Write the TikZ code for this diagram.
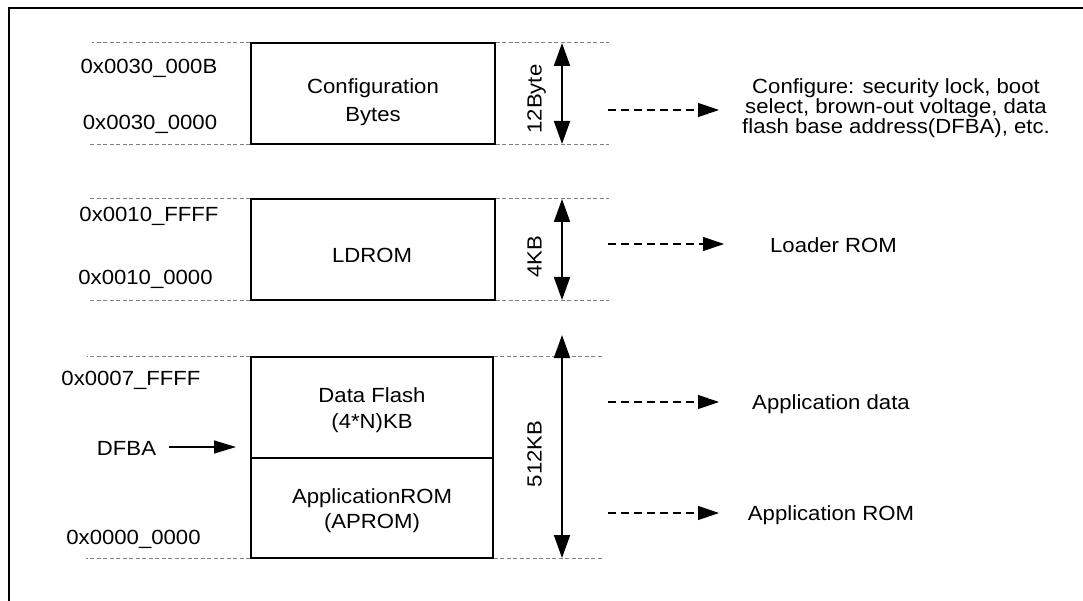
\documentclass[tikz,border=0pt]{standalone}
\usepackage{fontspec}
\setmainfont{Liberation Sans}[FakeStretch=1.08]
\usetikzlibrary{arrows.meta}
\begin{document}
\begin{tikzpicture}[x=1pt,y=-1pt,
  txt/.style={font=\fontsize{20.5}{19}\selectfont, inner sep=0pt, anchor=base},
  membox/.style={draw, line width=1.4pt, inner sep=0pt},
  guide/.style={draw=black!50, line width=0.9pt, dash pattern=on 4pt off 2.5pt},
  dimarrow/.style={line width=2pt, {Triangle[length=23pt,width=16pt]}-{Triangle[length=23pt,width=16pt]}},
  maparrow/.style={line width=1.2pt, dash pattern=on 8pt off 5pt, -{Triangle[length=21pt,width=14pt]}},
  ptrarrow/.style={line width=1.2pt, -{Triangle[length=22pt,width=13pt]}}]
\useasboundingbox (0,0) rectangle (1083,601);
\clip (0,0) rectangle (1083,601);
% outer frame
\draw[line width=2.2pt] (8.7,640) -- (8.7,7.7) -- (1120,7.7);

% memory regions
\node[membox, minimum width=244pt, minimum height=101pt] (cfg) at (373,93.5) {};
\node[membox, minimum width=244pt, minimum height=101pt] (ld) at (373,249.5) {};
\node[membox, minimum width=242pt, minimum height=101pt] (df) at (372,407.5) {};
\node[membox, minimum width=242pt, minimum height=100pt] (ap) at (372,508) {};

% region texts
\node[txt] (cfgA) at (373,94) {Configuration};
\node[txt] (cfgB) at (373,122) {Bytes};
\node[txt] (ldA) at (372,263) {LDROM};
\node[txt] (dfA) at (372,402) {Data Flash};
\node[txt] (dfB) at (372,428) {(4*N)KB};
\node[txt] (apA) at (372,503) {ApplicationROM};
\node[txt] (apB) at (372,528) {(APROM)};

% boundary guides
\draw[guide] (cfg.north west) -- ++(-158,0);
\draw[guide] (cfg.north east) -- ++(113,0);
\draw[guide] (cfg.south west) -- ++(-161,0);
\draw[guide] (cfg.south east) -- ++(113,0);
\draw[guide] (ld.north west) -- ++(-161,0);
\draw[guide] (ld.north east) -- ++(113,0);
\draw[guide] (ld.south west) -- ++(-161,0);
\draw[guide] (ld.south east) -- ++(113,0);
\draw[guide] (df.north west) -- ++(-163,0);
\draw[guide] (df.north east) -- ++(110,0);
\draw[guide] (ap.south west) -- ++(-164,0);
\draw[guide] (ap.south east) -- ++(110,0);

% addresses
\node[txt] (a1) at (149,74) {0x0030\_000B};
\node[txt] (a2) at (150,130) {0x0030\_0000};
\node[txt] (a3) at (149,222) {0x0010\_FFFF};
\node[txt] (a4) at (145.5,285) {0x0010\_0000};
\node[txt] (a5) at (131,385) {0x0007\_FFFF};
\node[txt] (a6) at (133.5,544) {0x0000\_0000};
\node[txt] (dfba) at (126.5,455) {DFBA};

% DFBA pointer
\coordinate (dfbaTip) at (236,447);
\draw[ptrarrow] (dfba.east |- dfbaTip) ++(13,0) -- (dfbaTip);

% size dimensions
\coordinate (s1t) at (562,43);  \coordinate (s1b) at (562,144);
\coordinate (s2t) at (562,199); \coordinate (s2b) at (562,300);
\coordinate (s3t) at (562,335); \coordinate (s3b) at (562,558);
\draw[dimarrow] (s1t) -- (s1b);
\draw[dimarrow] (s2t) -- (s2b);
\draw[dimarrow] (s3t) -- (s3b);
\node[txt, rotate=90] (z1) at (541.5,99) {12Byte};
\node[txt, rotate=90] (z2) at (541.5,257) {4KB};
\node[txt, rotate=90] (z3) at (541.5,454) {512KB};

% descriptions
\coordinate (m1s) at (608,110); \coordinate (m1e) at (719,110);
\coordinate (m2s) at (608,244); \coordinate (m2e) at (724,244);
\coordinate (m3s) at (608,402); \coordinate (m3e) at (719,402);
\coordinate (m4s) at (608,513); \coordinate (m4e) at (719,513);
\draw[maparrow] (m1s) -- (m1e);
\draw[maparrow] (m2s) -- (m2e);
\draw[maparrow] (m3s) -- (m3e);
\draw[maparrow] (m4s) -- (m4e);
\node[txt] (d1a) at (896,94) {Configure: security lock, boot};
\node[txt] (d1b) at (896,114) {select, brown-out voltage, data};
\node[txt] (d1c) at (896,134) {flash base address(DFBA), etc.};
\node[txt] (d2) at (833.5,253) {Loader ROM};
\node[txt] (d3) at (831,409) {Application data};
\node[txt] (d4) at (831,520) {Application ROM};
\end{tikzpicture}
\end{document}
